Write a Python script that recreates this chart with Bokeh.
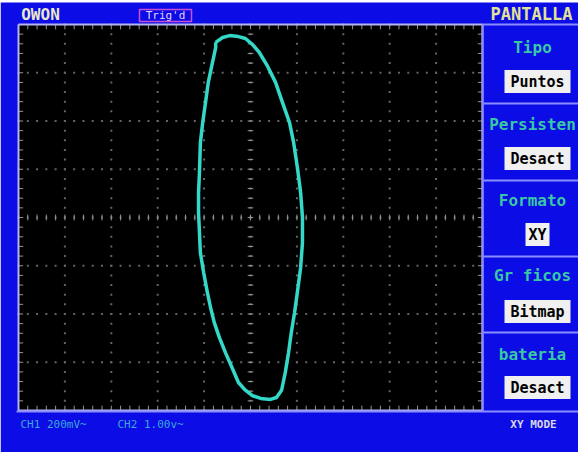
import numpy as np
from bokeh.plotting import figure
from bokeh.core.properties import value
from bokeh.embed import file_html
from bokeh.resources import INLINE

# ---- data: XY trace in screen divisions (x: -5..5, y: -4..4) ----
trace_x = [-0.75, -0.60, -0.45, -0.26, -0.11, 0.04, 0.19, 0.37, 0.54, 0.69, 0.84, 0.93,
           1.01, 1.08, 1.12, 1.12, 1.08, 1.01, 0.95, 0.88, 0.82, 0.75, 0.67, 0.56, 0.43,
           0.22, 0.04, -0.13, -0.26, -0.39, -0.54, -0.67, -0.78, -0.86, -0.93, -1.01,
           -1.08, -1.10, -1.12, -1.12, -1.10, -1.08, -1.03, -0.97, -0.91, -0.82, -0.75, -0.75]
trace_y = [3.63, 3.73, 3.77, 3.75, 3.71, 3.59, 3.42, 3.13, 2.80, 2.38, 1.97, 1.55,
           1.04, 0.52, 0.00, -0.52, -1.04, -1.55, -1.97, -2.38, -2.80, -3.21, -3.58, -3.73, -3.77,
           -3.75, -3.69, -3.56, -3.42, -3.13, -2.80, -2.49, -2.18, -1.87, -1.55, -1.14,
           -0.73, -0.31, 0.10, 0.52, 0.93, 1.55, 1.97, 2.38, 2.80, 3.21, 3.52, 3.63]

brand = "OWON"
trig_label = "Trig'd"
menu_title = "PANTALLA"
menu_labels = ["Tipo", "Persisten", "Formato", "Gr ficos", "bateria"]
menu_values = ["Puntos", "Desact", "XY", "Bitmap", "Desact"]
ch1_label = "CH1 200mV~"
ch2_label = "CH2 1.00v~"
mode_label = "XY MODE"

# ---- layout helpers (page pixel -> division coordinates) ----
SX = 46.4
SY = 48.25
def fx(px):
    return -5 + (px - 26) / SX
def fy(py):
    return 4 - (py - 32) / SY

p = figure(width=578, height=452, x_range=(fx(8), fx(586)), y_range=(fy(460), fy(8)),
           output_backend="svg", toolbar_location=None, x_axis_type=None, y_axis_type=None,
           min_border=0)
p.outline_line_color = None
p.background_fill_color = "white"
p.border_fill_color = "white"
p.grid.visible = False

BLUE = "#0c0ce6"
LINE = "#8c8cff"

# background
p.quad(left=fx(8), right=fx(586), top=fy(10), bottom=fy(460), fill_color=BLUE, line_color=None)
p.quad(left=-5, right=5, top=4, bottom=-4, fill_color="black", line_color=None)

# grid dots
gx, gy = [], []
for i in range(-4, 5):
    for y in np.arange(-4, 4.001, 0.2):
        gx.append(i); gy.append(y)
for j in range(-3, 4):
    for x in np.arange(-5, 5.001, 0.2):
        gx.append(x); gy.append(j)
p.scatter(gx, gy, marker="square", size=2, fill_color="#646464", line_color=None)

# tick marks on edges and center cross
tx0, ty0, tx1, ty1 = [], [], [], []
for x in np.arange(-5, 5.001, 0.2):
    tx0 += [x, x, x]; tx1 += [x, x, x]
    ty0 += [4, -4, -0.06]; ty1 += [3.9, -3.9, 0.06]
for y in np.arange(-4, 4.001, 0.2):
    ty0 += [y, y, y]; ty1 += [y, y, y]
    tx0 += [-5, 5, -0.06]; tx1 += [-4.9, 4.9, 0.06]
p.segment(tx0, ty0, tx1, ty1, line_color="#969696", line_width=1)

# screen border
p.line([-5, 5, 5, -5, -5], [4, 4, -4, -4, 4], line_color="#b4b4f0", line_width=2)

# right panel lines
p.segment(x0=[fx(490), fx(490)] + [fx(491)] * 4 + [fx(24)],
          y0=[fy(32), fy(32)] + [fy(v) for v in (111, 188, 264, 340)] + [fy(419)],
          x1=[fx(490), fx(586)] + [fx(586)] * 4 + [fx(586)],
          y1=[fy(419), fy(32)] + [fy(v) for v in (111, 188, 264, 340)] + [fy(419)],
          line_color=LINE, line_width=2)

# trace
p.line(trace_x, trace_y, line_color="#33d8c8", line_width=3.5, line_join="round")

MONO = value("DejaVu Sans Mono")

# header
p.text(x=[fx(48)], y=[fy(22)], text=[brand], text_font=MONO, text_font_style="bold",
       text_font_size="16px", text_color="#e8e8c8", text_align="center", text_baseline="middle")
p.rect(x=[fx(173)], y=[fy(23)], width=52, height=12, width_units="screen", height_units="screen",
       fill_color=None, line_color="#c850d8", line_width=1.5)
p.text(x=[fx(173)], y=[fy(23)], text=[trig_label], text_font=MONO,
       text_font_size="11px", text_color="#e8d0ff", text_align="center", text_baseline="middle")
p.text(x=[fx(539)], y=[fy(21)], text=[menu_title], text_font=MONO, text_font_style="bold",
       text_font_size="17px", text_color="#e2e296", text_align="center", text_baseline="middle")

# menu
title_y = [55, 132, 208, 283, 362]
box_y = [89, 166, 242, 319, 395]
box_w = [66, 66, 24, 66, 66]
cx = fx(540)
p.text(x=[cx] * 5, y=[fy(v) for v in title_y], text=menu_labels, text_font=MONO,
       text_font_style="bold", text_font_size="16px", text_color="#38c8a4",
       text_align="center", text_baseline="middle")
p.rect(x=[fx(545)] * 5, y=[fy(v) for v in box_y], width=box_w, height=[23] * 5,
       width_units="screen", height_units="screen", fill_color="#f0f0f0", line_color=None)
p.text(x=[fx(545)] * 5, y=[fy(v) for v in box_y], text=menu_values, text_font=MONO,
       text_font_style="bold", text_font_size="15px", text_color="black",
       text_align="center", text_baseline="middle")

# footer
p.text(x=[fx(28), fx(125)], y=[fy(432)] * 2, text=[ch1_label, ch2_label], text_font=MONO,
       text_font_size="11px", text_color="#3aa8d8", text_align="left", text_baseline="middle")
p.text(x=[fx(541)], y=[fy(432)], text=[mode_label], text_font=MONO, text_font_style="bold",
       text_font_size="11px", text_color="#d8d8e8", text_align="center", text_baseline="middle")

open("out.html", "w").write(file_html(p, INLINE))
